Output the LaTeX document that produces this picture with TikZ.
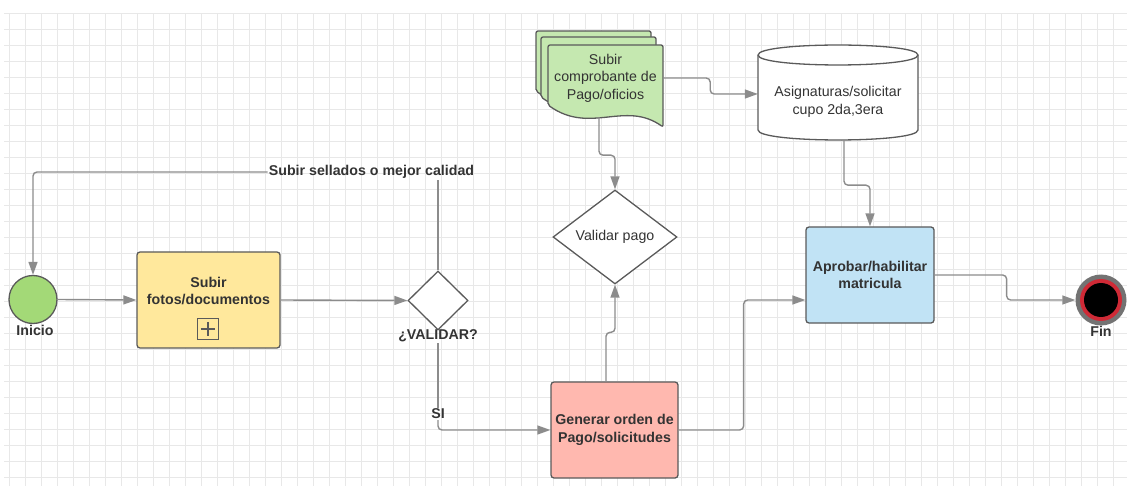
\documentclass[tikz,border=0pt]{standalone}
\usepackage{fontspec}
\setmainfont{Liberation Sans}
\usetikzlibrary{shapes.geometric,arrows.meta}

\definecolor{linegray}{HTML}{8C8C8C}
\definecolor{edgegray}{HTML}{5A5A5A}
\definecolor{txtgray}{HTML}{333333}
\definecolor{gridgray}{HTML}{E8E8E8}
\definecolor{startgreen}{HTML}{A3D977}
\definecolor{taskyellow}{HTML}{FFE89C}
\definecolor{taskred}{HTML}{FFB8AF}
\definecolor{taskblue}{HTML}{C1E3F5}
\definecolor{docgreen}{HTML}{C5E8B0}
\definecolor{finred}{HTML}{CF2A36}

\newcommand\txtsize{\fontsize{14.2}{17.5}\selectfont}

\tikzset{
  flow/.style={draw=linegray, line width=1.4pt, rounded corners=4pt, -{Triangle[length=13pt,width=9pt]}},
  plainflow/.style={draw=linegray, line width=1.4pt, rounded corners=4pt},
  task/.style={draw=edgegray, line width=1.3pt, rounded corners=3pt, align=center, font=\bfseries\txtsize, text=txtgray},
  decision/.style={diamond, draw=edgegray, line width=1.3pt, fill=white, inner sep=0pt, align=center, font=\txtsize, text=txtgray},
  docpage/.style={draw=edgegray, line width=1.3pt, fill=docgreen, rounded corners=2pt},
  store/.style={draw=edgegray, line width=1.3pt, fill=white},
  lbl/.style={font=\bfseries\txtsize, text=txtgray, inner sep=1pt},
  plaintxt/.style={font=\txtsize, text=txtgray, align=center},
  gridline/.style={draw=gridgray, line width=0.9pt}
}

\begin{document}
\begin{tikzpicture}[x=1pt, y=-1pt]
\useasboundingbox (0,0) rectangle (1127,486);

% grid
\foreach \gx in {9,25,...,1127}
  \draw[gridline] (\gx,13) -- (\gx,486);
\foreach \gy in {13,29,...,486}
  \draw[gridline] (4,\gy) -- (1127,\gy);

% start / end
\node (ini) [circle, draw=edgegray, line width=1.3pt, fill=startgreen, minimum size=48pt, inner sep=0pt] at (33,299.5) {};
\node (lblini) [lbl] at (35,330) {Inicio};

\node (fin) [circle, fill=edgegray!85, minimum size=51pt, inner sep=0pt] at (1101,300) {};
\fill[finred] (fin) circle (21pt);
\fill[black] (fin) circle (17pt);
\node (lblfin) [lbl] at (1101,331) {Fin};

% tasks
\node (fotos) [task, fill=taskyellow, minimum width=143pt, minimum height=96pt] at (208.5,300) {};
\node (fotostxt) [lbl, align=center] at (208.5,291) {Subir\\fotos/documentos};
\node (plus) [draw=edgegray, line width=1.1pt, minimum size=21pt, inner sep=0pt] at (208,329) {};
\draw[edgegray, line width=1.1pt] ([yshift=-4pt]plus.north) -- ([yshift=4pt]plus.south);
\draw[edgegray, line width=1.1pt] ([xshift=4pt]plus.west) -- ([xshift=-4pt]plus.east);

\node (gen) [task, fill=taskred, minimum width=127pt, minimum height=96pt] at (614.5,430) {Generar orden de\\Pago/solicitudes};
\node (apr) [task, fill=taskblue, minimum width=128pt, minimum height=96pt] at (870,275) {Aprobar/habilitar\\matricula};

% decisions
\node (dv) [decision, minimum width=60pt, minimum height=59pt] at (438,300.5) {};
\node (lblval) [lbl] at (438,336) {¿VALIDAR?};
\node (vp) [decision, minimum width=124pt, minimum height=94pt] at (615,237) {Validar pago};

% multiple documents
\foreach \dx/\dy in {-12/-14, -7/-8, 0/0}
  \draw[docpage, shift={(\dx,\dy)}] (548,105) -- (548,45) -- (663,45) -- (663,127)
    .. controls (625,100) and (590,135) .. (548,105) -- cycle;
\node (comp) [plaintxt, minimum width=115pt, minimum height=78pt] at (605.5,78) {Subir\\comprobante de\\Pago/oficios};

% data store
\draw[store] (758,55) -- (758,130) .. controls (758,143.3) and (918,143.3) .. (918,130)
  -- (918,55) .. controls (918,41.7) and (758,41.7) .. (758,55) -- cycle;
\draw[store] (758,55) .. controls (758,68.3) and (918,68.3) .. (918,55);
\node (asig) [plaintxt, minimum width=160pt, minimum height=76pt] at (838,102) {Asignaturas/solicitar\\cupo 2da,3era};

% labels on connectors
\node (lblsell) [lbl] at (371.5,172) {Subir sellados o mejor calidad};
\node (lblsi) [lbl] at (438,414) {SI};

% connectors
\draw[flow] (ini.east) -- (fotos.west);
\draw[flow] (fotos.east) -- (dv.west);
\draw[plainflow] (dv.north) -- (dv.north |- lblsell.south);
\draw[flow] (lblsell.west) -| (ini.north);
\draw[plainflow] (lblval.south) -- (lblsi.north);
\draw[flow] (lblsi.south) |- (gen.west);
\draw[flow] ([xshift=-8.5pt]gen.north) -- ++(0,-49) -| (vp.south);
\draw[flow] ([xshift=-6.5pt]comp.south) -- ++(0,38) -| (vp.north);
\draw[flow] (comp.east) -- ++(47,0) |- ([yshift=8pt]asig.west);
\draw[flow] ([xshift=6pt]asig.south) -- ++(0,45) -| (apr.north);
\draw[flow] (gen.east) -- ++(65,0) |- ([yshift=-25pt]apr.west);
\draw[flow] (apr.east) -- ++(72,0) |- (fin.west);
\end{tikzpicture}
\end{document}
